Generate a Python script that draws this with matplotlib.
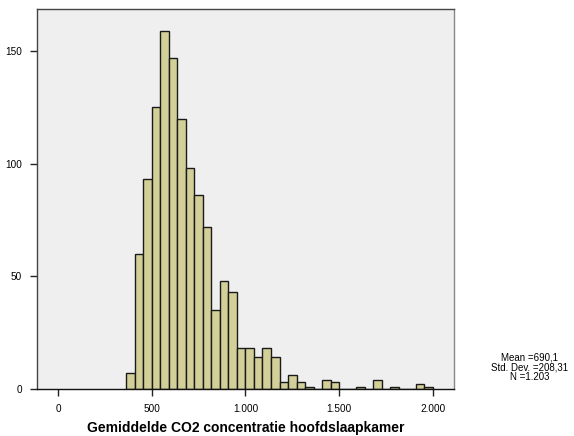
import matplotlib.pyplot as plt
import numpy as np

plt.rcParams['font.family'] = ['Liberation Sans', 'DejaVu Sans']

# histogram data (SPSS output), 36 bins from ~363.6 to 2000
bin_start = 363.6
bin_end = 2000.0
counts = [7, 60, 93, 125, 159, 147, 120, 98, 86, 72, 35, 48,
          43, 18, 18, 14, 18, 14, 3, 6, 3, 1, 0, 4,
          3, 0, 0, 1, 0, 4, 0, 1, 0, 0, 2, 1]

x_ticks = [0, 500, 1000, 1500, 2000]
x_ticklabels = ['0', '500', '1.000', '1.500', '2.000']
y_ticks = [0, 50, 100, 150]

stats = ['Mean =690,1', 'Std. Dev. =208,31', 'N =1.203']

edges = np.linspace(bin_start, bin_end, len(counts) + 1)
widths = np.diff(edges)

fig = plt.figure(figsize=(5.74, 4.36), dpi=100)
ax = fig.add_axes([0.065, 0.108, 0.726, 0.871])
ax.set_facecolor('#efefef')

ax.bar(edges[:-1], counts, width=widths, align='edge',
       color='#d3cf98', edgecolor='#1a1a1a', linewidth=1.0)

ax.set_xlim(-112, 2114)
ax.set_ylim(0, 168.6)

ax.set_xticks(x_ticks)
ax.set_xticklabels(x_ticklabels)
ax.set_yticks(y_ticks)
ax.tick_params(axis='both', labelsize=7.2, length=5, width=1, color='#222222', pad=6)

for side in ['top', 'left']:
    ax.spines[side].set_color('#444444')
ax.spines['right'].set_color('#888888')
ax.spines['bottom'].set_color('#111111')
for s in ax.spines.values():
    s.set_linewidth(1.0)

ax.set_xlabel('Gemiddelde CO2 concentratie hoofdslaapkamer',
              fontsize=10, fontweight='bold', labelpad=5)

fig.text(0.923, 0.157, '\n'.join(stats), ha='center', va='center',
         fontsize=7, linespacing=0.95)

fig.savefig('out.png', dpi=100)
